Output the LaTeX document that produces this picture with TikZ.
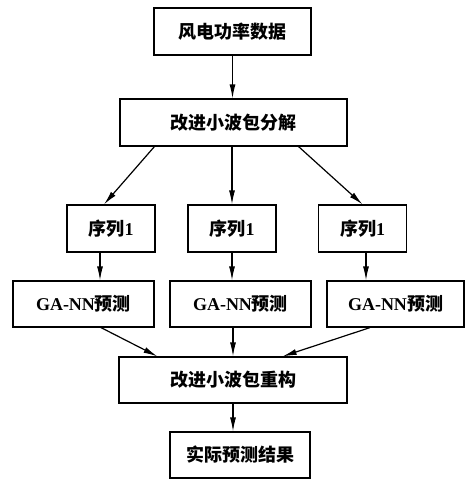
\documentclass[tikz,border=0pt]{standalone}
\usepackage{fontspec}
\setmainfont{Liberation Serif}
\newfontfamily\cjk{Noto Sans CJK SC}
\usetikzlibrary{arrows.meta}

\begin{document}
\begin{tikzpicture}[x=1pt, y=-1pt,
  every node/.style={
    shape=rectangle,
    minimum height=47pt,
    inner sep=0pt,
    text centered,
    font=\fontsize{18}{22}\selectfont\bfseries,
    line width=1.2pt,
    color=black,
    draw=black,
    fill=white,
  }]

\useasboundingbox (0,0) rectangle (465,479);

\node[minimum width=157pt] (data) at (232.5,31.5) {\cjk 风电功率数据};
\node[minimum width=227pt] (decomp) at (233.5,122.5) {\cjk 改进小波包分解};

\node[minimum width=88pt] (seq1) at (111,228.5) {{\cjk 序列}1};
\node[minimum width=88pt] (seq2) at (232,228.5) {{\cjk 序列}1};
\node[minimum width=88pt] (seq3) at (362.5,228.5) {{\cjk 序列}1};

\node[minimum width=141pt, minimum height=46pt] (gann1) at (83.5,304) {GA-NN{\cjk 预测}};
\node[minimum width=141pt, minimum height=46pt] (gann2) at (240.5,304) {GA-NN{\cjk 预测}};
\node[minimum width=137pt, minimum height=46pt] (gann3) at (395.5,304) {GA-NN{\cjk 预测}};

\node[minimum width=228pt, minimum height=46pt] (recon) at (233,380) {\cjk 改进小波包重构};
\node[minimum width=140pt, minimum height=46pt] (result) at (240,455) {\cjk 实际预测结果};

\begin{scope}[-{Latex[length=14pt,width=6pt]}, line width=1.2pt, black]
  \draw (data.south) -- (data.south |- decomp.north);
  \draw ([xshift=35pt]decomp.south west) -- ([xshift=-7pt]seq1.north);
  \draw (seq2.north |- decomp.south) -- (seq2.north);
  \draw ([xshift=-49pt]decomp.south east) -- (seq3.north);
  \draw ([xshift=-11pt]seq1.south) -- ([xshift=-11pt]seq1.south |- gann1.north);
  \draw (seq2.south) -- (seq2.south |- gann2.north);
  \draw ([xshift=3.5pt]seq3.south) -- ([xshift=3.5pt]seq3.south |- gann3.north);
  \draw ([xshift=17.5pt]gann1.south) -- ([xshift=39pt]recon.north west);
  \draw (recon.north |- gann2.south) -- (recon.north);
  \draw ([xshift=-25.5pt]gann3.south) -- ([xshift=-65pt]recon.north east);
  \draw (recon.south) -- (recon.south |- result.north);
\end{scope}

\end{tikzpicture}
\end{document}
